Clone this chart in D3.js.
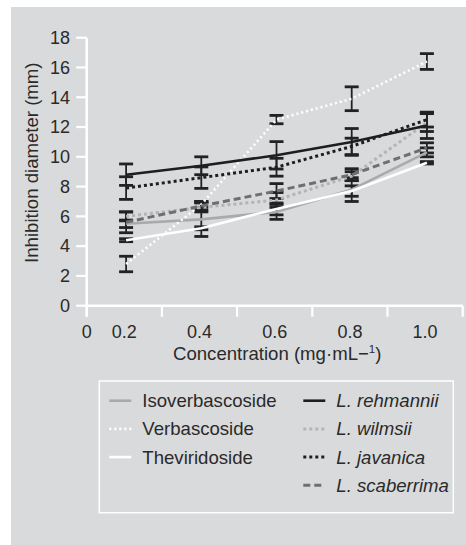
<!DOCTYPE html>
<html><head><meta charset="utf-8">
<script src="https://cdn.jsdelivr.net/npm/d3@7"></script>
<style>
html,body{margin:0;padding:0;background:#fff;}
svg{display:block;font-family:"Liberation Sans",Arial,sans-serif;}
</style></head>
<body>
<svg id="chart" width="466" height="545"></svg>
<script>
// ---- data ----
const categories = ["0.2", "0.4", "0.6", "0.8", "1.0"];
const yTicks = [0, 2, 4, 6, 8, 10, 12, 14, 16, 18];

const isoverbascoside = [5.5, 5.8, 6.3, 7.8, 10.3];
const isoverbascosideErr = [0.25, 1.15, 0.5, 0.8, 0.3];
const verbascoside = [2.8, 6.8, 12.5, 13.9, 16.4];
const verbascosideErr = [0.52, 0.2, 0.28, 0.8, 0.53];
const theviridoside = [4.4, 5.2, 6.5, 7.7, 9.6];
const theviridosideErr = [0.1, 0.1, 0.4, 0.35, 0.08];
const rehmannii = [8.8, 9.4, 10.1, 11.0, 12.1];
const rehmanniiErr = [0.72, 0.6, 0.92, 0.9, 0.87];
const wilmsii = [6.0, 6.6, 7.1, 8.7, 12.3];
const wilmsiiErr = [0.3, 0.3, 0.5, 0.3, 0.6];
const javanica = [7.9, 8.6, 9.3, 10.7, 12.5];
const javanicaErr = [0.76, 0.72, 0.6, 0.55, 0.5];
const scaberrima = [5.6, 6.7, 7.7, 8.8, 10.6];
const scaberrimaErr = [0.7, 0.3, 0.5, 0.4, 0.34];

const series = [
  {name: "Isoverbascoside", italic: false, values: isoverbascoside, err: isoverbascosideErr, color: "#a9aaac", dash: null, width: 2.6, col: 0, row: 0},
  {name: "Verbascoside", italic: false, values: verbascoside, err: verbascosideErr, color: "#ffffff", dash: "2,3", width: 2.6, col: 0, row: 1},
  {name: "Theviridoside", italic: false, values: theviridoside, err: theviridosideErr, color: "#ffffff", dash: null, width: 2.6, col: 0, row: 2},
  {name: "L. rehmannii", italic: true, values: rehmannii, err: rehmanniiErr, color: "#1e1e1e", dash: null, width: 2.6, col: 1, row: 0},
  {name: "L. wilmsii", italic: true, values: wilmsii, err: wilmsiiErr, color: "#b3b4b6", dash: "3,3", width: 3, col: 1, row: 1},
  {name: "L. javanica", italic: true, values: javanica, err: javanicaErr, color: "#1e1e1e", dash: "3,3", width: 3, col: 1, row: 2},
  {name: "L. scaberrima", italic: true, values: scaberrima, err: scaberrimaErr, color: "#6e6f71", dash: "7,4", width: 3, col: 1, row: 3}
];

// ---- layout ----
const svg = d3.select("#chart");
const bg = "#d9dadc";
const textColor = "#2a2a2a";
const fs = 18, fsBig = 18.6;
svg.append("rect").attr("x", 11).attr("y", 7).attr("width", 455).attr("height", 538).attr("fill", bg);

const x0 = 86.7, x1 = 462.7, yTop = 37.7, yBottom = 305.7;
const xBand = d3.scaleBand().domain(categories).range([x0, x1]).padding(0);
const xPos = c => xBand(c) + xBand.bandwidth() / 2 + 1.8;
const y = d3.scaleLinear().domain([0, 18]).range([yBottom, yTop]);

// axes
const axisG = svg.append("g");
axisG.append("line").attr("x1", x0).attr("x2", x0).attr("y1", yTop).attr("y2", yBottom + 11)
  .attr("stroke", "#fff").attr("stroke-width", 2.5);
axisG.append("line").attr("x1", x0).attr("x2", x1).attr("y1", yBottom).attr("y2", yBottom)
  .attr("stroke", "#fff").attr("stroke-width", 2.5);
yTicks.forEach(t => {
  axisG.append("line").attr("x1", x0 - 10.5).attr("x2", x0).attr("y1", y(t)).attr("y2", y(t))
    .attr("stroke", "#fff").attr("stroke-width", 2.2);
  axisG.append("text").attr("x", 70).attr("y", y(t)).attr("dy", "0.35em")
    .attr("text-anchor", "end").attr("font-size", fs).attr("fill", textColor).text(t);
});
const boundaries = categories.map(c => xBand(c)).concat([x1]);
boundaries.forEach(bx => {
  axisG.append("line").attr("x1", bx).attr("x2", bx).attr("y1", yBottom).attr("y2", yBottom + 11)
    .attr("stroke", "#fff").attr("stroke-width", 2.2);
});
axisG.append("text").attr("x", x0).attr("y", 338).attr("text-anchor", "middle")
  .attr("font-size", fs).attr("fill", textColor).text("0");
categories.forEach(c => {
  axisG.append("text").attr("x", xBand(c) + xBand.bandwidth() / 2).attr("y", 338)
    .attr("text-anchor", "middle").attr("font-size", fs).attr("fill", textColor).text(c);
});
const xt = axisG.append("text").attr("x", 173).attr("y", 360).attr("text-anchor", "start")
  .attr("font-size", fsBig).attr("fill", textColor);
xt.append("tspan").text("Concentration (mg·mL−");
xt.append("tspan").attr("font-size", 11.5).attr("dy", -7).text("1");
xt.append("tspan").attr("dy", 7).text(")");

axisG.append("text").attr("transform", `translate(38,${(yTop + yBottom) / 2 - 9}) rotate(-90)`)
  .attr("text-anchor", "middle").attr("font-size", fsBig).attr("fill", textColor)
  .text("Inhibition diameter (mm)");

// error bars
const eb = svg.append("g");
series.forEach(s => {
  categories.forEach((c, i) => {
    const cx = xPos(c), v = s.values[i], e = s.err[i];
    eb.append("line").attr("x1", cx).attr("x2", cx).attr("y1", y(v + e)).attr("y2", y(v - e))
      .attr("stroke", "#222").attr("stroke-width", 1.8);
    [v + e, v - e].forEach(w => {
      eb.append("line").attr("x1", cx - 7).attr("x2", cx + 7).attr("y1", y(w)).attr("y2", y(w))
        .attr("stroke", "#222").attr("stroke-width", 2.8);
    });
  });
});

// lines
const line = d3.line().x(d => xPos(d.c)).y(d => y(d.v));
const drawOrder = [0, 2, 1, 4, 6, 5, 3];
drawOrder.forEach(k => {
  const s = series[k];
  svg.append("path").datum(categories.map((c, i) => ({c, v: s.values[i]})))
    .attr("d", line).attr("fill", "none").attr("stroke", s.color)
    .attr("stroke-width", s.width).attr("stroke-dasharray", s.dash);
});

// legend
const lg = svg.append("g");
lg.append("rect").attr("x", 99.3).attr("y", 381).attr("width", 354).attr("height", 131.7)
  .attr("fill", "none").attr("stroke", "#fff").attr("stroke-width", 1.5);
const colX = [109.3, 303.3];
series.forEach(s => {
  const ry = 400.7 + s.row * 28.2;
  const sx = colX[s.col];
  lg.append("line").attr("x1", sx).attr("x2", sx + 22).attr("y1", ry).attr("y2", ry)
    .attr("stroke", s.color).attr("stroke-width", s.width).attr("stroke-dasharray", s.dash);
  lg.append("text").attr("x", sx + 33).attr("y", ry).attr("dy", "0.35em")
    .attr("font-size", fsBig).attr("fill", textColor)
    .attr("font-style", s.italic ? "italic" : "normal").text(s.name);
});
</script>
</body></html>
